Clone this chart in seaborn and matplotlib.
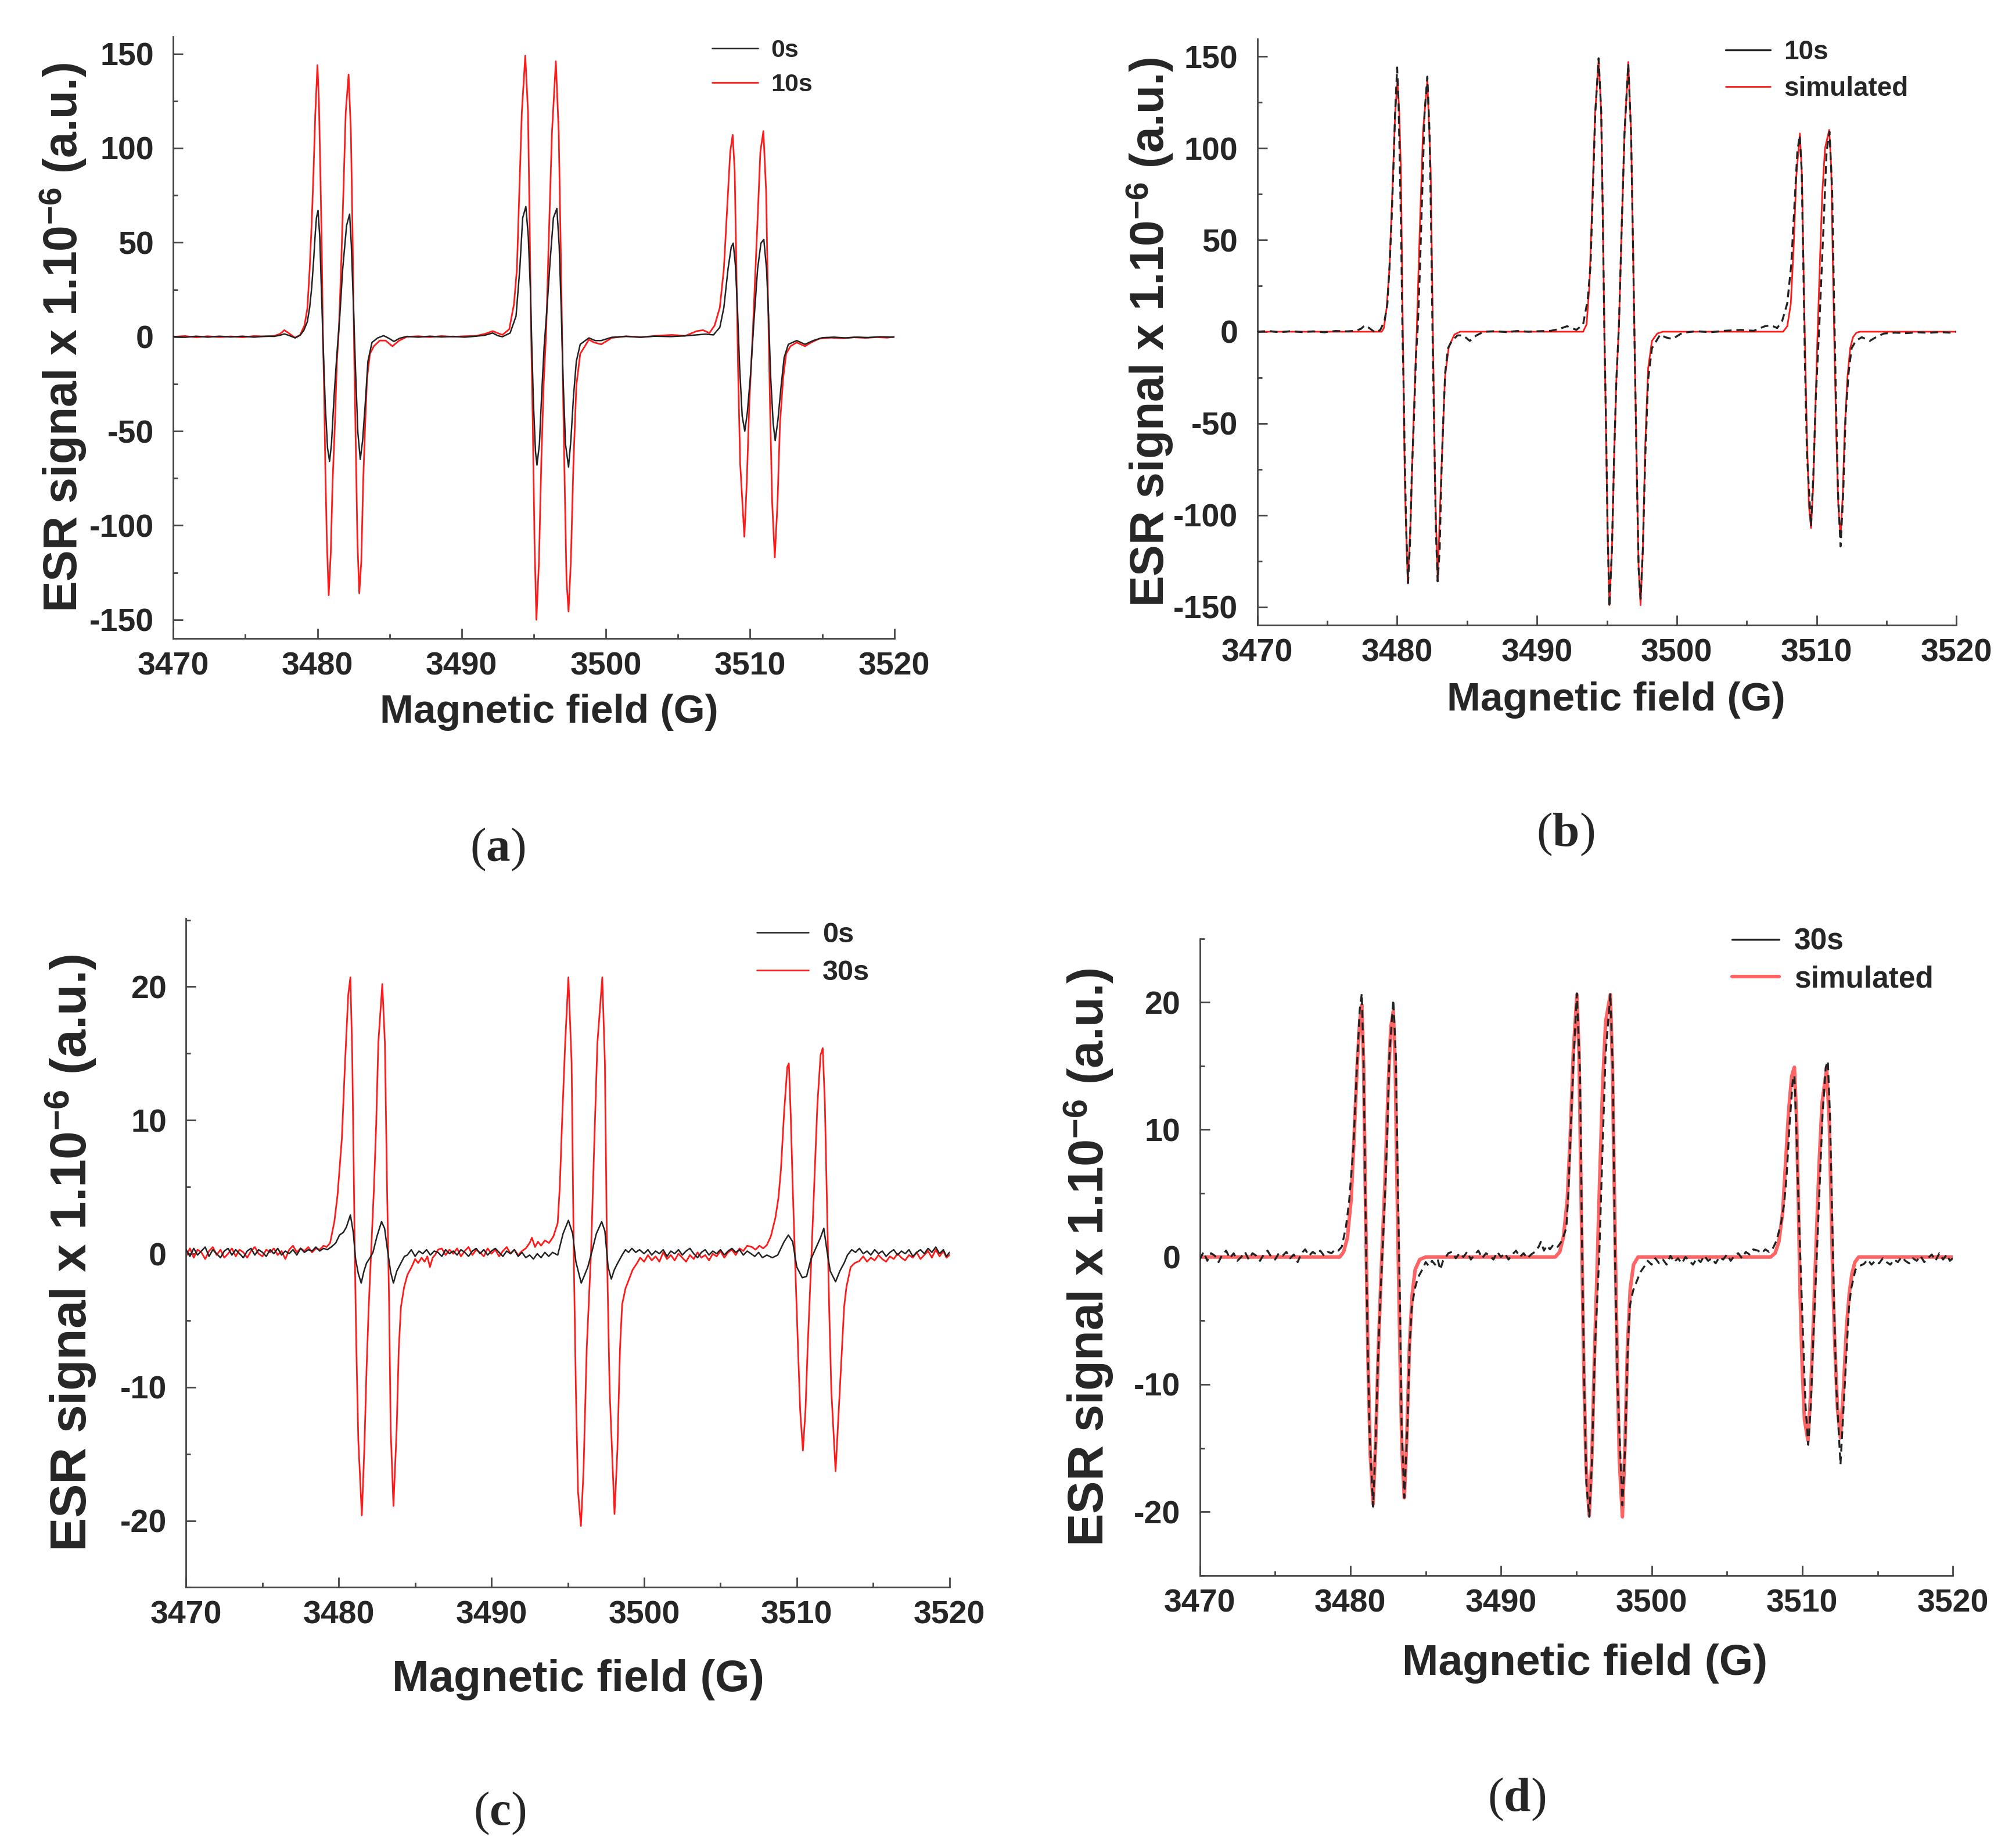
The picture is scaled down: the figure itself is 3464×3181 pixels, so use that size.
import pandas as pd
import matplotlib.pyplot as plt
from matplotlib.ticker import MultipleLocator
import seaborn as sns

# spectra: (magnetic field in G, ESR signal x 1e-6)

# panel (a) black, 0 s
spec_0s_a = [
    (3470.0, 0.2), (3470.8, -0.3), (3471.6, 0.3), (3472.4, -0.2), (3473.2, 0.3), (3474.0, -0.1),
    (3474.8, 0.3), (3475.6, -0.2), (3476.4, 0.3), (3477.0, 0.2), (3477.4, 0.8), (3477.7, 1.5),
    (3478.0, 0.8), (3478.45, -0.6), (3478.8, 0.8), (3479.06, 3.5), (3479.3, 8), (3479.46, 15.5),
    (3479.6, 26), (3479.73, 40), (3479.85, 55), (3479.93, 63), (3480.04, 67), (3480.16, 53),
    (3480.27, 26), (3480.38, -1), (3480.54, -36), (3480.7, -59), (3480.84, -66), (3480.97, -57),
    (3481.15, -32), (3481.35, -9), (3481.55, 11), (3481.75, 36), (3482.02, 59), (3482.23, 65),
    (3482.35, 48.5), (3482.5, 15.5), (3482.63, -15.5), (3482.8, -50.6), (3482.97, -65), (3483.13, -55),
    (3483.31, -36), (3483.5, -13), (3483.78, -3), (3484.18, -0.6), (3484.59, 0.6), (3485.0, -1),
    (3485.3, -2.5), (3485.7, -0.8), (3486.2, 0.2), (3487.0, -0.2), (3487.8, 0.3), (3488.6, -0.1),
    (3489.4, 0.2), (3490.2, -0.2), (3491.0, 0.3), (3491.6, 0.8), (3492.15, 2.0), (3492.5, 0.6),
    (3492.82, 0), (3493.36, 2), (3493.77, 11), (3494.03, 36), (3494.23, 63), (3494.45, 69),
    (3494.62, 53), (3494.76, 26), (3494.85, -1), (3494.98, -36), (3495.12, -61), (3495.22, -68),
    (3495.39, -57), (3495.55, -30), (3495.72, -5), (3495.92, 15.5), (3496.13, 40), (3496.36, 63),
    (3496.6, 68), (3496.76, 48.5), (3496.9, 15.5), (3497.03, -22), (3497.2, -57), (3497.41, -69),
    (3497.57, -55), (3497.75, -32), (3497.95, -13), (3498.22, -4), (3498.82, -0.6), (3499.25, -2),
    (3499.68, -2), (3500.4, -0.3), (3501.4, 0.2), (3502.4, -0.2), (3503.4, 0.3), (3504.5, 0.1),
    (3505.5, 0.5), (3506.3, 1.0), (3506.9, 1.4), (3507.46, 1), (3507.9, 5), (3508.18, 15.5),
    (3508.47, 36), (3508.69, 47.5), (3508.83, 49.6), (3508.98, 38), (3509.12, 15.5), (3509.27, -15.5),
    (3509.45, -42), (3509.63, -50), (3509.81, -40), (3510.03, -20), (3510.27, 9), (3510.52, 36),
    (3510.75, 49.6), (3510.95, 51.6), (3511.14, 36), (3511.28, 11), (3511.43, -22), (3511.6, -46),
    (3511.74, -55), (3511.93, -44), (3512.15, -26), (3512.36, -11), (3512.65, -4), (3513.23, -2),
    (3513.8, -4), (3514.38, -2), (3515.0, -0.5), (3515.8, -0.2), (3516.6, -0.6), (3517.4, -0.2),
    (3518.2, -0.4), (3519.0, 0.0), (3520.0, -0.2),
]

# panel (a) red and panel (b) black, 10 s
spec_10s = [
    (3470.0, 0.0), (3470.8, 0.4), (3471.6, -0.3), (3472.4, 0.3), (3473.2, -0.2), (3474.0, 0.2),
    (3474.8, -0.3), (3475.6, 0.4), (3476.4, 0.2), (3477.0, 0.5), (3477.4, 1.5), (3477.7, 3.5),
    (3478.0, 2.0), (3478.45, -0.5), (3478.8, 1.0), (3479.1, 6), (3479.3, 15), (3479.46, 36),
    (3479.6, 60), (3479.73, 88), (3479.85, 118), (3480.0, 144), (3480.1, 125), (3480.2, 88),
    (3480.3, 46), (3480.38, 0), (3480.47, -32), (3480.54, -67), (3480.65, -108), (3480.78, -137),
    (3480.92, -115), (3481.05, -77), (3481.21, -46), (3481.35, -13), (3481.48, 3), (3481.62, 32),
    (3481.8, 77), (3481.96, 119), (3482.16, 139), (3482.32, 108), (3482.43, 57), (3482.54, -5),
    (3482.63, -46), (3482.77, -108), (3482.9, -136), (3483.04, -119), (3483.17, -77), (3483.31, -46),
    (3483.44, -22), (3483.64, -9), (3483.91, -5), (3484.32, -2), (3484.72, -2), (3485.2, -5),
    (3485.67, -2), (3486.2, 0.0), (3487.0, 0.3), (3487.8, -0.2), (3488.6, 0.4), (3489.4, 0.0),
    (3490.2, 0.3), (3491.0, 0.5), (3491.6, 1.5), (3492.15, 3), (3492.82, 1), (3493.3, 4),
    (3493.63, 17.5), (3493.83, 36), (3494.0, 77), (3494.17, 119), (3494.41, 149), (3494.6, 119),
    (3494.7, 67), (3494.82, 0), (3494.93, -46), (3495.05, -108), (3495.18, -150), (3495.36, -119),
    (3495.52, -67), (3495.68, -26), (3495.86, 3), (3496.06, 57), (3496.26, 108), (3496.53, 146),
    (3496.73, 108), (3496.87, 46), (3497.0, -15.5), (3497.14, -77), (3497.27, -129), (3497.41, -145.6),
    (3497.57, -119), (3497.75, -67), (3497.95, -26), (3498.22, -9), (3498.82, -1.5), (3499.18, -3),
    (3499.68, -4), (3500.4, -0.6), (3501.4, 0.3), (3502.4, -0.3), (3503.4, 0.5), (3504.58, 1),
    (3505.5, 0.5), (3506.3, 3), (3506.74, 3.5), (3507.18, 2), (3507.54, 6), (3507.9, 15.5),
    (3508.18, 36), (3508.4, 67), (3508.62, 98), (3508.79, 107), (3508.93, 88), (3509.05, 36),
    (3509.16, -15.5), (3509.31, -67), (3509.6, -106), (3509.77, -77), (3509.94, -36), (3510.2, 5),
    (3510.49, 57), (3510.71, 98), (3510.92, 109), (3511.11, 77), (3511.25, 15.5), (3511.38, -36),
    (3511.53, -88), (3511.71, -117), (3511.9, -88), (3512.07, -46), (3512.29, -22), (3512.5, -9),
    (3512.8, -5), (3513.23, -3), (3513.8, -5), (3514.24, -3), (3514.8, -1), (3515.6, -0.5),
    (3516.4, -0.8), (3517.2, -0.3), (3518.0, -0.6), (3518.8, -0.2), (3519.5, -0.5), (3520.0, 0.0),
]

# panel (b) red, simulated
spec_sim_10s = [
    (3470.0, 0), (3478.9, 0), (3479.05, 2), (3479.25, 13), (3479.45, 34.5), (3479.66, 77),
    (3479.86, 119), (3480.02, 137), (3480.15, 120), (3480.27, 88), (3480.41, 0), (3480.55, -83),
    (3480.76, -137), (3480.96, -104), (3481.16, -51), (3481.4, 0), (3481.62, 56), (3481.85, 109),
    (3482.16, 137), (3482.4, 88), (3482.56, 0), (3482.71, -83), (3482.9, -136), (3483.08, -93),
    (3483.29, -51), (3483.42, -25), (3483.7, -8), (3484.1, -1.5), (3484.5, 0), (3493.3, 0),
    (3493.55, 4), (3493.75, 25), (3493.95, 70), (3494.15, 118), (3494.41, 148.5), (3494.58, 122),
    (3494.7, 67), (3494.82, 0), (3494.95, -60), (3495.05, -108), (3495.18, -149), (3495.36, -119),
    (3495.52, -67), (3495.68, -26), (3495.86, 3), (3496.06, 57), (3496.26, 108), (3496.53, 147),
    (3496.73, 108), (3496.87, 46), (3497.0, -15), (3497.14, -77), (3497.27, -129), (3497.41, -149),
    (3497.57, -119), (3497.75, -60), (3497.95, -20), (3498.22, -5), (3498.6, -1), (3499.0, 0),
    (3507.6, 0), (3507.9, 3), (3508.15, 15), (3508.35, 45), (3508.55, 85), (3508.8, 108),
    (3508.95, 85), (3509.05, 40), (3509.15, 0), (3509.3, -55), (3509.45, -95), (3509.6, -107),
    (3509.75, -85), (3509.9, -45), (3510.05, -5), (3510.2, 30), (3510.4, 75), (3510.6, 100),
    (3510.9, 110), (3511.04, 90), (3511.14, 45), (3511.25, 0), (3511.4, -55), (3511.55, -95),
    (3511.71, -112), (3511.86, -90), (3512.0, -55), (3512.2, -25), (3512.4, -9), (3512.6, -3),
    (3512.85, -0.5), (3513.1, 0), (3520.0, 0),
]

# panel (c) black, 0 s
spec_0s_c = [
    (3470.0, 0.3), (3470.25, -0.2), (3470.5, 0.4), (3470.75, -0.1), (3471.0, 0.2), (3471.25, 0.5),
    (3471.5, -0.2), (3471.75, 0.3), (3472.0, 0.0), (3472.25, -0.3), (3472.5, 0.2), (3472.75, 0.4),
    (3473.0, -0.1), (3473.25, 0.3), (3473.5, 0.0), (3473.75, -0.3), (3474.0, 0.2), (3474.25, 0.4),
    (3474.5, -0.1), (3474.75, 0.3), (3475.0, 0.1), (3475.25, -0.2), (3475.5, 0.3), (3475.75, 0.0),
    (3476.0, 0.4), (3476.25, -0.1), (3476.5, 0.2), (3476.75, 0.0), (3477.0, 0.3), (3477.25, -0.1),
    (3477.5, 0.4), (3477.75, 0.1), (3478.0, 0.3), (3478.25, 0.2), (3478.5, 0.5), (3478.75, 0.2),
    (3479.0, 0.4), (3479.25, 0.3), (3479.5, 0.5), (3479.8, 0.8), (3480.05, 1.4), (3480.3, 1.6),
    (3480.5, 2.0), (3480.76, 2.9), (3480.95, 1.6), (3481.1, -0.4), (3481.28, -1.5), (3481.47, -2.2),
    (3481.65, -1.3), (3481.82, -0.7), (3482.05, -0.3), (3482.24, 0.1), (3482.5, 1.3), (3482.8, 2.4),
    (3483.0, 1.9), (3483.2, 0.2), (3483.4, -1.4), (3483.58, -2.2), (3483.8, -1.3), (3484.07, -0.7),
    (3484.3, -0.2), (3484.49, -0.1), (3484.75, 0.3), (3485.0, -0.2), (3485.25, 0.2), (3485.5, 0.0),
    (3485.75, 0.3), (3486.0, -0.1), (3486.25, 0.2), (3486.5, 0.1), (3486.75, -0.2), (3487.0, 0.3),
    (3487.25, 0.0), (3487.5, 0.2), (3487.75, -0.1), (3488.0, 0.3), (3488.25, 0.1), (3488.5, -0.2),
    (3488.75, 0.2), (3489.0, 0.4), (3489.25, 0.0), (3489.5, 0.3), (3489.75, -0.1), (3490.0, 0.2),
    (3490.25, 0.4), (3490.5, 0.1), (3490.75, -0.2), (3491.0, 0.2), (3491.25, 0.0), (3491.5, 0.3),
    (3491.75, -0.2), (3492.0, 0.1), (3492.25, -0.3), (3492.5, -0.1), (3492.75, -0.4), (3493.0, 0.0),
    (3493.25, -0.3), (3493.5, 0.1), (3493.75, -0.2), (3494.0, 0.1), (3494.34, -0.1), (3494.69, 1.5),
    (3495.04, 2.5), (3495.32, 1.5), (3495.53, -0.6), (3495.88, -2.2), (3496.1, -1.6), (3496.31, -1.0),
    (3496.59, 0.2), (3496.87, 1.5), (3497.22, 2.4), (3497.43, 1.7), (3497.64, -1.0), (3497.85, -1.9),
    (3498.05, -1.2), (3498.27, -0.7), (3498.56, -0.1), (3498.78, 0.3), (3498.98, 0.1), (3499.2, 0.4),
    (3499.45, 0.1), (3499.7, 0.3), (3500.0, 0.0), (3500.25, 0.3), (3500.5, -0.1), (3500.75, 0.2),
    (3501.0, 0.0), (3501.25, 0.3), (3501.5, -0.2), (3501.75, 0.2), (3502.0, 0.0), (3502.25, 0.3),
    (3502.5, -0.1), (3502.75, 0.2), (3503.0, 0.4), (3503.25, 0.0), (3503.5, -0.3), (3503.75, 0.1),
    (3504.0, 0.3), (3504.25, -0.1), (3504.5, 0.2), (3504.75, 0.0), (3505.0, 0.3), (3505.25, -0.1),
    (3505.5, 0.2), (3505.75, 0.4), (3506.0, 0.1), (3506.25, 0.3), (3506.5, -0.1), (3506.75, 0.2),
    (3507.0, 0.0), (3507.25, -0.2), (3507.5, 0.1), (3507.75, -0.3), (3508.04, -0.1), (3508.4, -0.3),
    (3508.75, -0.1), (3509.17, 0.9), (3509.45, 1.4), (3509.73, 0.9), (3510.0, -1.0), (3510.36, -1.8),
    (3510.64, -1.7), (3510.93, -0.4), (3511.28, 0.5), (3511.55, 1.2), (3511.77, 1.9), (3511.98, 0.2),
    (3512.19, -1.3), (3512.54, -2.1), (3512.82, -1.3), (3513.1, -0.7), (3513.32, -0.1), (3513.6, 0.3),
    (3513.85, 0.1), (3514.1, 0.4), (3514.35, 0.0), (3514.6, 0.2), (3514.85, -0.1), (3515.1, 0.3),
    (3515.35, 0.0), (3515.6, 0.2), (3515.85, -0.2), (3516.1, 0.1), (3516.35, 0.3), (3516.6, -0.1),
    (3516.85, 0.2), (3517.1, 0.0), (3517.35, 0.3), (3517.6, -0.2), (3517.85, 0.1), (3518.1, 0.3),
    (3518.35, 0.0), (3518.6, 0.4), (3518.85, 0.1), (3519.1, 0.5), (3519.35, 0.0), (3519.6, 0.3),
    (3519.8, -0.2), (3520.0, 0.1),
]

# panel (c) red and panel (d) black, 30 s
spec_30s = [
    (3470.0, -0.2), (3470.25, 0.4), (3470.5, -0.3), (3470.75, 0.3), (3471.0, 0.1), (3471.25, -0.4),
    (3471.5, 0.2), (3471.75, 0.5), (3472.0, -0.1), (3472.25, 0.3), (3472.5, -0.3), (3472.75, 0.0),
    (3473.0, 0.4), (3473.25, -0.2), (3473.5, 0.3), (3473.75, 0.1), (3474.0, -0.3), (3474.25, 0.2),
    (3474.5, 0.5), (3474.75, 0.0), (3475.0, -0.2), (3475.25, 0.3), (3475.5, 0.1), (3475.75, 0.4),
    (3476.0, -0.1), (3476.25, 0.2), (3476.5, -0.4), (3476.75, 0.3), (3477.0, 0.6), (3477.25, 0.1),
    (3477.5, 0.4), (3477.75, 0.2), (3478.0, 0.5), (3478.25, 0.1), (3478.5, 0.4), (3478.75, 0.3),
    (3479.0, 0.6), (3479.2, 0.5), (3479.43, 0.8), (3479.57, 1.6), (3479.71, 2.4), (3479.92, 4.4),
    (3480.2, 8.6), (3480.41, 14.3), (3480.62, 19.4), (3480.76, 20.7), (3480.88, 15.0), (3480.97, 7.0),
    (3481.05, 0.0), (3481.15, -7.0), (3481.28, -14.0), (3481.51, -19.6), (3481.68, -14.4), (3481.82, -8.6),
    (3481.96, -4.0), (3482.1, -0.4), (3482.31, 5.1), (3482.45, 9.7), (3482.59, 15.8), (3482.85, 20.2),
    (3483.02, 15.8), (3483.16, 5.1), (3483.3, -4.0), (3483.4, -13.2), (3483.58, -18.9), (3483.79, -13.2),
    (3483.93, -7.1), (3484.07, -4.0), (3484.28, -2.5), (3484.49, -1.6), (3484.77, -1.0), (3485.0, -0.4),
    (3485.2, -0.7), (3485.42, -0.3), (3485.62, -0.6), (3485.8, -0.2), (3485.97, -1.0), (3486.15, -0.3),
    (3486.3, -0.1), (3486.5, 0.3), (3486.74, 0.4), (3487.0, -0.1), (3487.25, 0.3), (3487.5, 0.0),
    (3487.75, 0.4), (3488.0, -0.2), (3488.25, 0.2), (3488.5, 0.5), (3488.75, -0.1), (3489.0, 0.3),
    (3489.25, 0.1), (3489.5, -0.2), (3489.75, 0.4), (3490.0, 0.0), (3490.25, 0.3), (3490.5, -0.2),
    (3490.75, 0.2), (3491.0, 0.5), (3491.25, 0.0), (3491.5, 0.3), (3491.75, -0.1), (3492.0, 0.2),
    (3492.25, 0.4), (3492.5, 0.8), (3492.65, 1.2), (3492.85, 0.5), (3493.05, 0.9), (3493.25, 0.6),
    (3493.5, 1.0), (3493.77, 0.8), (3494.06, 1.3), (3494.34, 2.3), (3494.48, 5.1), (3494.62, 9.7),
    (3494.83, 15.8), (3495.04, 20.7), (3495.25, 14.3), (3495.39, 0.0), (3495.53, -10.2), (3495.67, -17.8),
    (3495.86, -20.4), (3496.03, -16.3), (3496.24, -7.1), (3496.52, 0.0), (3496.73, 8.1), (3496.94, 15.8),
    (3497.26, 20.7), (3497.43, 14.3), (3497.57, 0.0), (3497.74, -10.2), (3498.06, -19.5), (3498.25, -14.7),
    (3498.42, -7.1), (3498.56, -3.8), (3498.78, -2.6), (3498.98, -2.0), (3499.25, -1.2), (3499.54, -0.7),
    (3499.74, -0.3), (3500.0, -0.6), (3500.25, -0.1), (3500.5, -0.5), (3500.75, -0.2), (3501.0, -0.6),
    (3501.25, 0.1), (3501.5, -0.4), (3501.75, -0.1), (3502.0, -0.5), (3502.25, 0.0), (3502.5, -0.3),
    (3502.75, -0.6), (3503.0, -0.1), (3503.25, -0.4), (3503.5, 0.1), (3503.75, -0.3), (3504.0, -0.1),
    (3504.25, -0.5), (3504.5, 0.0), (3504.75, -0.2), (3505.0, 0.2), (3505.25, -0.3), (3505.5, 0.1),
    (3505.75, 0.3), (3506.0, -0.1), (3506.25, 0.4), (3506.5, 0.2), (3506.75, 0.6), (3507.06, 0.5),
    (3507.3, 0.3), (3507.55, 0.6), (3507.8, 0.4), (3508.04, 0.65), (3508.3, 1.3), (3508.6, 2.7),
    (3508.8, 4.2), (3508.96, 6.3), (3509.17, 10.6), (3509.38, 14.0), (3509.48, 14.25), (3509.6, 10.5),
    (3509.73, 5.1), (3509.87, 0.1), (3510.08, -7.1), (3510.22, -11.7), (3510.4, -14.75), (3510.57, -11.7),
    (3510.71, -7.1), (3510.93, -1.0), (3511.14, 5.1), (3511.35, 11.2), (3511.56, 14.9), (3511.7, 15.4),
    (3511.84, 11.2), (3511.98, 3.6), (3512.12, -4.0), (3512.26, -10.2), (3512.54, -16.3), (3512.75, -11.7),
    (3512.96, -7.1), (3513.1, -4.0), (3513.25, -2.5), (3513.53, -1.0), (3513.8, -0.7), (3514.09, -0.55),
    (3514.35, -0.2), (3514.6, -0.6), (3514.85, -0.3), (3515.1, -0.5), (3515.35, -0.1), (3515.6, -0.4),
    (3515.85, -0.6), (3516.1, -0.2), (3516.35, -0.4), (3516.6, 0.0), (3516.85, -0.3), (3517.1, -0.5),
    (3517.35, -0.1), (3517.6, -0.3), (3517.85, 0.1), (3518.1, -0.4), (3518.35, -0.1), (3518.6, 0.2),
    (3518.85, -0.3), (3519.1, 0.3), (3519.35, -0.2), (3519.6, 0.2), (3519.8, -0.3), (3520.0, -0.1),
]

# panel (d) red, simulated
spec_sim_30s = [
    (3470.0, 0), (3479.3, 0), (3479.55, 0.4), (3479.8, 1.5), (3480.05, 4.5), (3480.25, 9.5),
    (3480.45, 15), (3480.62, 18.5), (3480.76, 19.8), (3480.88, 15), (3480.97, 7), (3481.06, 0),
    (3481.17, -8), (3481.32, -15.5), (3481.51, -19.4), (3481.68, -14.5), (3481.85, -7.5), (3482.05, -1),
    (3482.3, 6), (3482.5, 13), (3482.68, 18), (3482.85, 19.3), (3482.98, 15), (3483.08, 7),
    (3483.18, 0), (3483.3, -8), (3483.42, -15), (3483.58, -18.9), (3483.75, -14), (3483.92, -7),
    (3484.1, -3), (3484.3, -1), (3484.6, -0.2), (3485.0, 0), (3493.6, 0), (3493.9, 0.4),
    (3494.15, 1.6), (3494.4, 4.5), (3494.6, 9.5), (3494.8, 16), (3495.04, 20.6), (3495.18, 16),
    (3495.28, 8), (3495.38, 0), (3495.5, -9), (3495.65, -16.5), (3495.86, -20.3), (3496.04, -15.5),
    (3496.2, -8), (3496.38, -1), (3496.55, 6), (3496.75, 13.5), (3496.95, 18.5), (3497.26, 20.6),
    (3497.4, 15), (3497.5, 7), (3497.6, 0), (3497.72, -8.5), (3497.86, -16), (3498.06, -20.4),
    (3498.24, -14.5), (3498.4, -7), (3498.58, -2.5), (3498.8, -0.6), (3499.1, 0), (3507.9, 0),
    (3508.2, 0.3), (3508.45, 1.2), (3508.7, 3.5), (3508.9, 7.5), (3509.1, 11.5), (3509.3, 14.2),
    (3509.48, 14.9), (3509.62, 11), (3509.74, 4.5), (3509.86, -3), (3510.0, -8.7), (3510.15, -12.8),
    (3510.38, -14.4), (3510.55, -10.9), (3510.73, -5.5), (3510.92, 0.9), (3511.12, 7.3), (3511.32, 12.1),
    (3511.62, 14.8), (3511.8, 10.5), (3511.92, 4.1), (3512.04, -2.3), (3512.17, -7.1), (3512.34, -11.9),
    (3512.54, -14.2), (3512.74, -10.3), (3512.94, -5.5), (3513.12, -2.9), (3513.3, -1.3), (3513.5, -0.4),
    (3513.75, 0), (3520.0, 0),
]

legend_a = ["0s", "10s"]
legend_b = ["10s", "simulated"]
legend_c = ["0s", "30s"]
legend_d = ["30s", "simulated"]
panel_letters = ["a", "b", "c", "d"]

ylabel = "ESR signal x 1.10$^{\\mathbf{-6}}$ (a.u.)"
xlabel = "Magnetic field (G)"

sns.set_style("ticks")
plt.rcParams["font.family"] = ["Liberation Sans", "DejaVu Sans"]
plt.rcParams["font.weight"] = "bold"
plt.rcParams["axes.unicode_minus"] = False
plt.rcParams["mathtext.fontset"] = "custom"
plt.rcParams["mathtext.rm"] = "Liberation Sans:bold"
plt.rcParams["mathtext.bf"] = "Liberation Sans:bold"
plt.rcParams["mathtext.it"] = "Liberation Serif:bold"


def to_df(spec):
    return pd.DataFrame(spec, columns=["field", "signal"])


def draw_panel(
    ax,
    black_spec,
    red_spec,
    labels,
    red_color,
    red_lw,
    black_dashed,
    ylim,
    ymajor,
    ylabel_size,
    xlabel_size,
    ylabel_x,
    xlabel_xy,
    legend_xy,
    legend_size,
    handlelength,
    labelspacing,
):
    # black drawn first so it comes first in the legend, zorder keeps it on top
    if black_dashed:
        black_ls, black_lw = (0, (4, 2.5)), 1.2
    else:
        black_ls, black_lw = "-", 0.9
    sns.lineplot(
        data=to_df(black_spec), x="field", y="signal", ax=ax, color="#222222",
        linewidth=black_lw, linestyle=black_ls, label=labels[0], sort=False,
        estimator=None, zorder=3,
    )
    sns.lineplot(
        data=to_df(red_spec), x="field", y="signal", ax=ax, color=red_color,
        linewidth=red_lw, label=labels[1], sort=False, estimator=None, zorder=2,
    )
    ax.set_xlim(3470, 3520)
    ax.set_ylim(*ylim)
    ax.xaxis.set_major_locator(MultipleLocator(10))
    ax.xaxis.set_minor_locator(MultipleLocator(5))
    ax.yaxis.set_major_locator(MultipleLocator(ymajor))
    ax.yaxis.set_minor_locator(MultipleLocator(ymajor / 2))
    ax.tick_params(which="both", direction="in", color="#444444", width=1.0, labelsize=20)
    ax.tick_params(which="major", length=6)
    ax.tick_params(which="minor", length=3)
    ax.tick_params(axis="y", pad=12)
    ax.tick_params(axis="x", pad=8)
    for side in ["top", "right"]:
        ax.spines[side].set_visible(False)
    for side in ["left", "bottom"]:
        ax.spines[side].set_color("#444444")
        ax.spines[side].set_linewidth(1.0)

    ax.set_ylabel(ylabel, fontsize=ylabel_size, fontweight="bold")
    ax.set_xlabel(xlabel, fontsize=xlabel_size, fontweight="bold")
    ax.yaxis.set_label_coords(ylabel_x, 0.5)
    ax.xaxis.set_label_coords(*xlabel_xy)

    leg = ax.legend(
        loc="upper left", bbox_to_anchor=legend_xy, frameon=False, borderpad=0,
        borderaxespad=0, handlelength=handlelength, handletextpad=0.5,
        labelspacing=labelspacing, prop={"size": legend_size, "weight": "bold"},
    )
    for h in leg.legend_handles:
        h.set_linestyle("-")


fig = plt.figure(figsize=(17.32, 15.905), dpi=200)

ax_a = fig.add_axes([0.0861, 0.6544, 0.3584, 0.3257])
ax_b = fig.add_axes([0.6249, 0.6616, 0.3475, 0.3173])
ax_c = fig.add_axes([0.0925, 0.1410, 0.3794, 0.3619])
ax_d = fig.add_axes([0.5963, 0.1475, 0.3743, 0.3446])

draw_panel(ax_a, spec_0s_a, spec_10s, legend_a, "#ff1a1a", 1.0, False, (-160, 159), 50,
           29, 25, -0.118, (0.521, -0.0917), (0.7475, 0.9966), 15.5, 1.84, 0.45)
draw_panel(ax_b, spec_10s, spec_sim_10s, legend_b, "#ff1a1a", 1.0, True, (-160, 159.5), 50,
           29, 25, -0.118, (0.513, -0.0961), (0.6695, 0.9988), 16.5, 1.7, 0.4)
draw_panel(ax_c, spec_0s_c, spec_30s, legend_c, "#ff1a1a", 1.0, False, (-25, 25.1), 10,
           31.5, 27.5, -0.1153, (0.5135, -0.1074), (0.7476, 0.9948), 17.5, 1.83, 0.4)
draw_panel(ax_d, spec_30s, spec_sim_30s, legend_d, "#ff6464", 2.2, True, (-25, 25), 10,
           30.5, 27, -0.112, (0.511, -0.1068), (0.707, 1.017), 18.5, 1.58, 0.3)

# panel letters: serif, bold letter inside plain parentheses
letter_pos = [(0.2474, 0.5403), (0.778, 0.5486), (0.2485, 0.0189), (0.7538, 0.0264)]
for letter, (px, py) in zip(panel_letters, letter_pos):
    fig.text(px, py, "($\\mathit{" + letter + "}$)", ha="center", va="center",
             fontsize=30, family="Liberation Serif", fontweight="normal")

fig.savefig("out.png", dpi=200)
